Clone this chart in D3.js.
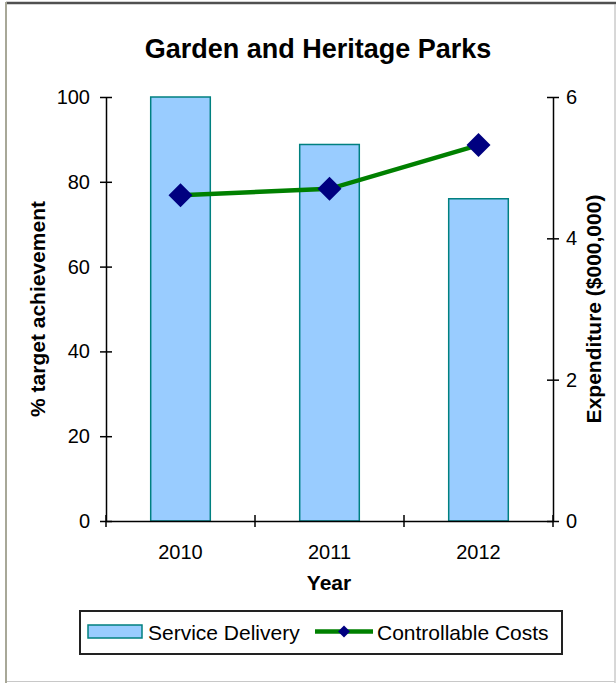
<!DOCTYPE html>
<html>
<head>
<meta charset="utf-8">
<script src="https://cdn.jsdelivr.net/npm/d3@7"></script>
<style>
  html, body { margin: 0; padding: 0; background: #fff; }
  svg { display: block; font-family: "Liberation Sans", Arial, sans-serif; }
</style>
</head>
<body>
<svg id="chart" width="616" height="683"></svg>
<script>
// Garden and Heritage Parks: service delivery (% of target) vs. controllable costs
const years = ["2010", "2011", "2012"];
const serviceDelivery = [100, 88.8, 76];        // % target achievement
const controllableCosts = [4.61, 4.70, 5.32];   // expenditure, $000,000
const leftTicks = [0, 20, 40, 60, 80, 100];
const rightTicks = [0, 2, 4, 6];

const svg = d3.select("#chart");

const plot = { left: 106, right: 553, top: 97, bottom: 521 };

// frame
svg.append("line").attr("x1", 6).attr("x2", 616).attr("y1", 3).attr("y2", 3)
  .attr("stroke", "#505050").attr("stroke-width", 2.5);
svg.append("line").attr("x1", 6).attr("x2", 6).attr("y1", 2).attr("y2", 683)
  .attr("stroke", "#a8a898").attr("stroke-width", 2);
svg.append("line").attr("x1", 615).attr("x2", 615).attr("y1", 4).attr("y2", 683)
  .attr("stroke", "#b0b0b0").attr("stroke-width", 1);
svg.append("line").attr("x1", 7).attr("x2", 615).attr("y1", 681.5).attr("y2", 681.5)
  .attr("stroke", "#c8c8c8").attr("stroke-width", 1);

// scales
const xBand = d3.scaleBand().domain(years).range([plot.left, plot.right]).padding(0);
const xBar = d3.scaleBand().domain(years).range([plot.left, plot.right])
  .paddingInner(0.6).paddingOuter(0.3);
const yLeft = d3.scaleLinear().domain([0, 100]).range([plot.bottom, plot.top]);
const yRight = d3.scaleLinear().domain([0, 6]).range([plot.bottom, plot.top]);

// bars
svg.append("g").selectAll("rect").data(years).join("rect")
  .attr("x", d => xBar(d))
  .attr("width", xBar.bandwidth())
  .attr("y", (d, i) => yLeft(serviceDelivery[i]))
  .attr("height", (d, i) => plot.bottom - yLeft(serviceDelivery[i]))
  .attr("fill", "#99ccff")
  .attr("stroke", "#008080")
  .attr("stroke-width", 1.5);

// axes
const tickFont = 20;
const leftAxis = svg.append("g").attr("transform", `translate(${plot.left},0)`)
  .call(d3.axisLeft(yLeft).tickValues(leftTicks).tickFormat(d3.format("d"))
    .tickSize(6).tickPadding(10).tickSizeOuter(0));
leftAxis.selectAll(".tick line").attr("x1", 6);

const rightAxis = svg.append("g").attr("transform", `translate(${plot.right},0)`)
  .call(d3.axisRight(yRight).tickValues(rightTicks).tickFormat(d3.format("d"))
    .tickSize(6).tickPadding(7).tickSizeOuter(0));
rightAxis.selectAll(".tick line").attr("x1", -6);

const bottomAxis = svg.append("g").attr("transform", `translate(0,${plot.bottom})`)
  .call(d3.axisBottom(xBand).tickSize(0).tickPadding(24).tickSizeOuter(0));

// category boundary ticks crossing the x axis
const boundaries = years.map(d => xBand(d)).concat([xBand(years[years.length - 1]) + xBand.bandwidth()]);
svg.append("g").selectAll("line").data(boundaries).join("line")
  .attr("x1", d => d).attr("x2", d => d)
  .attr("y1", plot.bottom - 6).attr("y2", plot.bottom + 6)
  .attr("stroke", "#000").attr("stroke-width", 1.5);

[leftAxis, rightAxis, bottomAxis].forEach(g => {
  g.selectAll("path.domain").attr("stroke", "#000").attr("stroke-width", 1.5);
  g.selectAll(".tick line").attr("stroke", "#000").attr("stroke-width", 1.5);
  g.selectAll("text").attr("font-size", tickFont).attr("fill", "#000")
    .attr("font-family", "'Liberation Sans', Arial, sans-serif");
});

// cost line with diamond markers
const cx = d => xBand(d) + xBand.bandwidth() / 2;
const line = d3.line().x((d, i) => cx(years[i])).y(d => yRight(d));
svg.append("path").datum(controllableCosts)
  .attr("d", line).attr("fill", "none")
  .attr("stroke", "#008000").attr("stroke-width", 4.5);

const diamond = d3.symbol().type(d3.symbolSquare).size(288);
svg.append("g").selectAll("path").data(controllableCosts).join("path")
  .attr("d", diamond)
  .attr("transform", (d, i) => `translate(${cx(years[i])},${yRight(d)}) rotate(45)`)
  .attr("fill", "#000080");

// titles
svg.append("text").attr("x", 318).attr("y", 58).attr("text-anchor", "middle")
  .attr("font-size", 27).attr("font-weight", "bold").attr("fill", "#000")
  .text("Garden and Heritage Parks");

svg.append("text").attr("x", 329).attr("y", 590).attr("text-anchor", "middle")
  .attr("font-size", 21).attr("font-weight", "bold").attr("fill", "#000")
  .text("Year");

const midY = (plot.top + plot.bottom) / 2;
svg.append("text").attr("transform", `translate(45,${midY}) rotate(-90)`)
  .attr("text-anchor", "middle").attr("font-size", 21).attr("font-weight", "bold")
  .attr("fill", "#000").text("% target achievement");

svg.append("text").attr("transform", `translate(601,${midY}) rotate(-90)`)
  .attr("text-anchor", "middle").attr("font-size", 21).attr("font-weight", "bold")
  .attr("fill", "#000").text("Expenditure ($000,000)");

// legend
const legend = svg.append("g");
legend.append("rect").attr("x", 80).attr("y", 611).attr("width", 482).attr("height", 43)
  .attr("fill", "#fff").attr("stroke", "#222").attr("stroke-width", 2);
legend.append("rect").attr("x", 88).attr("y", 625).attr("width", 54).attr("height", 13)
  .attr("fill", "#99ccff").attr("stroke", "#008080").attr("stroke-width", 1.5);
legend.append("text").attr("x", 148).attr("y", 640).attr("font-size", 21).attr("fill", "#000")
  .text("Service Delivery");
legend.append("line").attr("x1", 315).attr("x2", 373).attr("y1", 631.5).attr("y2", 631.5)
  .attr("stroke", "#008000").attr("stroke-width", 4.5);
legend.append("path").attr("d", d3.symbol().type(d3.symbolSquare).size(72))
  .attr("transform", "translate(344,631.5) rotate(45)").attr("fill", "#000080");
legend.append("text").attr("x", 377).attr("y", 640).attr("font-size", 21).attr("fill", "#000")
  .text("Controllable Costs");
</script>
</body>
</html>
